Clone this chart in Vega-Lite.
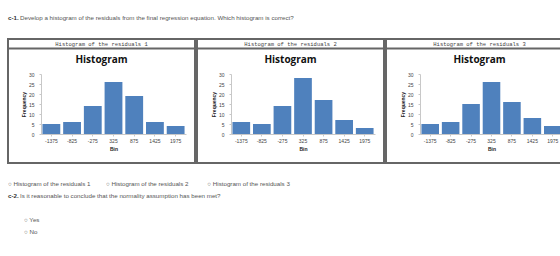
{
  "$schema": "https://vega.github.io/schema/vega-lite/v6.json",
  "background": "white",
  "padding": {"left": 7, "top": 2, "right": 0, "bottom": 0},
  "config": {
    "font": "Liberation Sans",
    "view": {"stroke": "#666", "strokeWidth": 2},
    "axis": {"labelFont": "Liberation Sans", "titleFont": "Liberation Sans", "labelColor": "#444", "titleColor": "#222", "grid": false, "domainColor": "#c8c8c8", "tickColor": "#c8c8c8", "labelFontSize": 5, "titleFontSize": 5, "tickSize": 2},
    "title": {"font": "Liberation Mono", "fontSize": 5.5, "fontWeight": "normal", "color": "#444", "subtitleFont": "Open Sans", "subtitleFontSize": 10, "subtitleFontWeight": "bold", "subtitleColor": "#111", "subtitlePadding": 8, "offset": -26, "frame": "group"}
  },
  "datasets": {
    "hist": [
      {"panel": "1", "bin": "-1375", "freq": 5},
      {"panel": "1", "bin": "-825", "freq": 6},
      {"panel": "1", "bin": "-275", "freq": 14},
      {"panel": "1", "bin": "325", "freq": 26},
      {"panel": "1", "bin": "875", "freq": 19},
      {"panel": "1", "bin": "1425", "freq": 6},
      {"panel": "1", "bin": "1975", "freq": 4},
      {"panel": "2", "bin": "-1375", "freq": 6},
      {"panel": "2", "bin": "-825", "freq": 5},
      {"panel": "2", "bin": "-275", "freq": 14},
      {"panel": "2", "bin": "325", "freq": 28},
      {"panel": "2", "bin": "875", "freq": 17},
      {"panel": "2", "bin": "1425", "freq": 7},
      {"panel": "2", "bin": "1975", "freq": 3},
      {"panel": "3", "bin": "-1375", "freq": 5},
      {"panel": "3", "bin": "-825", "freq": 6},
      {"panel": "3", "bin": "-275", "freq": 15},
      {"panel": "3", "bin": "325", "freq": 26},
      {"panel": "3", "bin": "875", "freq": 16},
      {"panel": "3", "bin": "1425", "freq": 8},
      {"panel": "3", "bin": "1975", "freq": 4}
    ]
  },
  "align": "none",
  "vconcat": [
    {
      "width": 550,
      "height": 32,
      "view": {"stroke": null},
      "data": {"values": [{"label": "c-1.", "text": "Develop a histogram of the residuals from the final regression equation. Which histogram is correct?"}]},
      "encoding": {"x": {"value": 0}},
      "layer": [
        {"mark": {"type": "text", "align": "left", "fontSize": 6.2, "fontWeight": "bold", "color": "#333", "dx": 0}, "encoding": {"text": {"field": "label"}}},
        {"mark": {"type": "text", "align": "left", "fontSize": 6.2, "color": "#555", "dx": 12}, "encoding": {"text": {"field": "text"}}}
      ]
    },
    {
      "align": "none",
      "spacing": 14,
      "vconcat": [
        {
          "spacing": 0,
          "hconcat": [
            {
              "width": 187, "height": 124,
              "title": {"text": "Histogram of the residuals 1", "subtitle": "Histogram"},
              "data": {"name": "hist"},
              "transform": [{"filter": "datum.panel == '1'"}],
              "layer": [
                {
                  "mark": {"type": "bar", "color": "#4F81BD"},
                  "encoding": {
                    "x": {"field": "bin", "type": "ordinal", "sort": null, "title": "Bin", "scale": {"range": [33, 178], "paddingInner": 0.14, "paddingOuter": 0.07}, "axis": {"labelAngle": 0, "titleFontWeight": "bold", "titlePadding": 3, "offset": -29}},
                    "y": {"field": "freq", "type": "quantitative", "title": "Frequency", "scale": {"domain": [0, 30], "range": [95, 35]}, "axis": {"values": [0, 5, 10, 15, 20, 25, 30], "titleFontWeight": "bold", "titlePadding": 2, "labelPadding": 5, "offset": -33}}
                  }
                },
                {
                  "mark": {"type": "rule", "opacity": 0},
                  "encoding": {
                    "x": {"field": "freq", "type": "quantitative", "scale": {"range": [0, 187]}, "axis": {"orient": "top", "offset": -9, "labels": false, "ticks": false, "title": null, "domainColor": "#666", "domainWidth": 2}}
                  }
                }
              ],
              "resolve": {"scale": {"x": "independent"}, "axis": {"x": "independent"}}
            },
            {
              "width": 187, "height": 124,
              "title": {"text": "Histogram of the residuals 2", "subtitle": "Histogram"},
              "data": {"name": "hist"},
              "transform": [{"filter": "datum.panel == '2'"}],
              "layer": [
                {
                  "mark": {"type": "bar", "color": "#4F81BD"},
                  "encoding": {
                    "x": {"field": "bin", "type": "ordinal", "sort": null, "title": "Bin", "scale": {"range": [34, 178], "paddingInner": 0.14, "paddingOuter": 0.07}, "axis": {"labelAngle": 0, "titleFontWeight": "bold", "titlePadding": 3, "offset": -29}},
                    "y": {"field": "freq", "type": "quantitative", "title": "Frequency", "scale": {"domain": [0, 30], "range": [95, 35]}, "axis": {"values": [0, 5, 10, 15, 20, 25, 30], "titleFontWeight": "bold", "titlePadding": 2, "labelPadding": 5, "offset": -34}}
                  }
                },
                {
                  "mark": {"type": "rule", "opacity": 0},
                  "encoding": {
                    "x": {"field": "freq", "type": "quantitative", "scale": {"range": [0, 187]}, "axis": {"orient": "top", "offset": -9, "labels": false, "ticks": false, "title": null, "domainColor": "#666", "domainWidth": 2}}
                  }
                }
              ],
              "resolve": {"scale": {"x": "independent"}, "axis": {"x": "independent"}}
            },
            {
              "width": 179, "height": 124,
              "title": {"text": "Histogram of the residuals 3", "subtitle": "Histogram", "dx": 4},
              "data": {"name": "hist"},
              "transform": [{"filter": "datum.panel == '3'"}],
              "layer": [
                {
                  "mark": {"type": "bar", "color": "#4F81BD"},
                  "encoding": {
                    "x": {"field": "bin", "type": "ordinal", "sort": null, "title": "Bin", "scale": {"range": [34, 177], "paddingInner": 0.14, "paddingOuter": 0.07}, "axis": {"labelAngle": 0, "titleFontWeight": "bold", "titlePadding": 3, "offset": -29}},
                    "y": {"field": "freq", "type": "quantitative", "title": "Frequency", "scale": {"domain": [0, 30], "range": [95, 35]}, "axis": {"values": [0, 5, 10, 15, 20, 25, 30], "titleFontWeight": "bold", "titlePadding": 2, "labelPadding": 5, "offset": -34}}
                  }
                },
                {
                  "mark": {"type": "rule", "opacity": 0},
                  "encoding": {
                    "x": {"field": "freq", "type": "quantitative", "scale": {"range": [0, 179]}, "axis": {"orient": "top", "offset": -9, "labels": false, "ticks": false, "title": null, "domainColor": "#666", "domainWidth": 2}}
                  }
                }
              ],
              "resolve": {"scale": {"x": "independent"}, "axis": {"x": "independent"}}
            }
          ]
        },
        {
          "width": 550,
          "height": 60,
          "view": {"stroke": null},
          "data": {"values": [
            {"row": "opts", "kind": "plain", "label": "", "text": "○ Histogram of the residuals 1\u00a0\u00a0\u00a0\u00a0\u00a0\u00a0\u00a0\u00a0\u00a0○ Histogram of the residuals 2\u00a0\u00a0\u00a0\u00a0\u00a0\u00a0\u00a0\u00a0\u00a0\u00a0\u00a0○ Histogram of the residuals 3"},
            {"row": "q2", "kind": "question", "label": "c-2.", "text": "Is it reasonable to conclude that the normality assumption has been met?"},
            {"row": "yes", "kind": "choice", "label": "", "text": "○ Yes"},
            {"row": "no", "kind": "choice", "label": "", "text": "○ No"}
          ]},
          "encoding": {
            "x": {"value": 0},
            "y": {"field": "row", "type": "ordinal", "scale": {"domain": ["opts", "q2", "gap", "yes", "no"]}, "axis": null}
          },
          "layer": [
            {"transform": [{"filter": "datum.kind == 'plain'"}], "mark": {"type": "text", "align": "left", "fontSize": 6.2, "color": "#555", "dx": 0}, "encoding": {"text": {"field": "text"}}},
            {"transform": [{"filter": "datum.kind == 'question'"}], "mark": {"type": "text", "align": "left", "fontSize": 6.2, "fontWeight": "bold", "color": "#333", "dx": 0}, "encoding": {"text": {"field": "label"}}},
            {"transform": [{"filter": "datum.kind == 'question'"}], "mark": {"type": "text", "align": "left", "fontSize": 6.2, "color": "#555", "dx": 12}, "encoding": {"text": {"field": "text"}}},
            {"transform": [{"filter": "datum.kind == 'choice'"}], "mark": {"type": "text", "align": "left", "fontSize": 6.2, "color": "#555", "dx": 16}, "encoding": {"text": {"field": "text"}}}
          ]
        }
      ]
    }
  ],
  "spacing": 4
}
